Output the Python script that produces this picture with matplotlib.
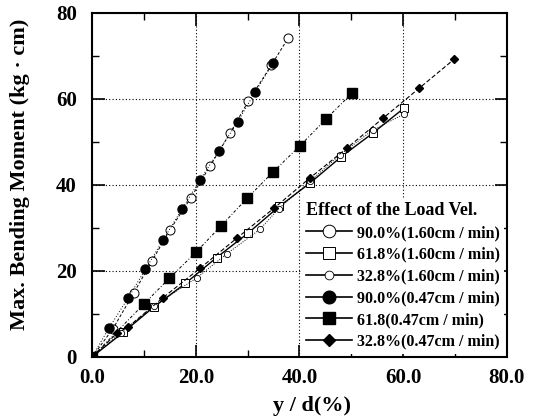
import matplotlib
matplotlib.use("Agg")
import matplotlib.pyplot as plt
from matplotlib.ticker import MultipleLocator

plt.rcParams['font.family'] = ['Liberation Serif', 'DejaVu Serif']
plt.rcParams['font.weight'] = 'bold'

# 90.0% (1.60 cm/min)
x90_fast = [0, 4.0, 8.0, 11.5, 15.0, 19.0, 22.7, 26.6, 30.1, 34.6, 37.8]
y90_fast = [0, 6.5, 14.8, 22.2, 29.5, 36.9, 44.3, 52.0, 59.4, 67.9, 74.1]
# 61.8% (1.60 cm/min)
x618_fast = [0, 6.0, 11.9, 18.0, 24.0, 30.1, 36.1, 42.0, 48.1, 54.1, 60.1]
y618_fast = [0, 5.7, 11.6, 17.1, 23.1, 28.8, 35.0, 40.4, 46.6, 52.0, 57.8]
# 32.8% (1.60 cm/min)
x328_fast = [0, 5.5, 12.0, 20.2, 26.0, 32.4, 36.0, 42.0, 47.8, 54.2, 60.2]
y328_fast = [0, 5.6, 11.9, 18.4, 24.0, 29.7, 34.5, 40.8, 47.0, 52.8, 56.5]
# 90.0% (0.47 cm/min)
x90_slow = [0, 3.3, 6.9, 10.3, 13.7, 17.3, 20.8, 24.5, 28.1, 31.4, 34.9]
y90_slow = [0, 6.8, 13.6, 20.4, 27.2, 34.3, 41.1, 48.0, 54.7, 61.5, 68.3]
# 61.8 (0.47 cm/min)
x618_slow = [0, 10.0, 14.9, 20.0, 24.9, 29.9, 34.9, 40.1, 45.1, 50.1]
y618_slow = [0, 12.3, 18.3, 24.3, 30.5, 36.9, 43.0, 49.1, 55.3, 61.3]
# 32.8% (0.47 cm/min)
x328_slow = [0, 4.8, 7.0, 13.7, 20.8, 27.9, 35.1, 42.0, 49.1, 56.1, 63.1, 69.8]
y328_slow = [0, 5.5, 7.0, 13.8, 20.6, 27.6, 34.6, 41.6, 48.5, 55.5, 62.5, 69.2]

labels = ['90.0%(1.60cm / min)', '61.8%(1.60cm / min)', '32.8%(1.60cm / min)',
          '90.0%(0.47cm / min)', '61.8(0.47cm / min)', '32.8%(0.47cm / min)']
xticks = [0, 20, 40, 60, 80]
xticklabels = ['0.0', '20.0', '40.0', '60.0', '80.0']

fig = plt.figure(figsize=(5.48, 4.16), dpi=100)
ax = fig.add_axes([0.168, 0.142, 0.757, 0.827])

ax.plot(x90_fast, y90_fast, ls=(0, (3, 2)), lw=0.7, color='k', marker='o', ms=6.5,
        mfc='white', mec='k', mew=0.7, label=labels[0])
ax.plot(x618_fast, y618_fast, ls='-', lw=1.0, color='k', marker='s', ms=6,
        mfc='white', mec='k', mew=0.7, label=labels[1])
ax.plot(x328_fast, y328_fast, ls=(0, (1, 1.5)), lw=0.7, color='k', marker='o', ms=4.5,
        mfc='white', mec='k', mew=0.6, label=labels[2])
ax.plot(x90_slow, y90_slow, ls=(0, (1, 2)), lw=0.7, color='k', marker='o', ms=6.5,
        mfc='k', mec='k', label=labels[3])
ax.plot(x618_slow, y618_slow, ls=(0, (3, 2, 1, 2)), lw=0.7, color='k', marker='s', ms=6.5,
        mfc='k', mec='k', label=labels[4])
ax.plot(x328_slow, y328_slow, ls=(0, (4, 2)), lw=0.8, color='k', marker='D', ms=4.5,
        mfc='k', mec='k', label=labels[5])

ax.set_xlim(0, 80)
ax.set_ylim(0, 80)
ax.yaxis.set_major_locator(MultipleLocator(20))
ax.yaxis.set_minor_locator(MultipleLocator(10))
ax.xaxis.set_minor_locator(MultipleLocator(10))
ax.set_xticks(xticks)
ax.set_xticklabels(xticklabels)
ax.tick_params(which='both', direction='in', top=True, right=True, labelsize=15)
ax.tick_params(axis='x', pad=8)
ax.tick_params(axis='y', pad=11)
ax.tick_params(which='major', length=9, width=1.2)
ax.tick_params(which='minor', length=5, width=1.0)
for s in ax.spines.values():
    s.set_linewidth(1.5)

ax.grid(True, which='major', ls=(0, (1, 2)), lw=0.8, color='k')

ax.set_xlabel('y / d(%)', fontsize=16, fontweight='bold', labelpad=0)
ax.xaxis.set_label_coords(0.53, -0.115)
ax.set_ylabel('Max. Bending Moment (kg · cm)', fontsize=16, fontweight='bold')
ax.yaxis.set_label_coords(-0.15, 0.53)

leg = ax.legend(loc='lower right', bbox_to_anchor=(1.0, 0.0), fontsize=11.5,
                title='Effect of the Load Vel.', title_fontproperties={'weight': 'bold', 'size': 13},
                handlelength=2.9, handletextpad=0.3, labelspacing=0.36, borderpad=0.25,
                borderaxespad=0.2, markerscale=1.4, fancybox=False, framealpha=1,
                facecolor='white', edgecolor='none')
leg._legend_box.align = 'left'
for line in leg.get_lines():
    line.set_linestyle('-')
    line.set_linewidth(1.2)

fig.savefig('out.png', dpi=100)
